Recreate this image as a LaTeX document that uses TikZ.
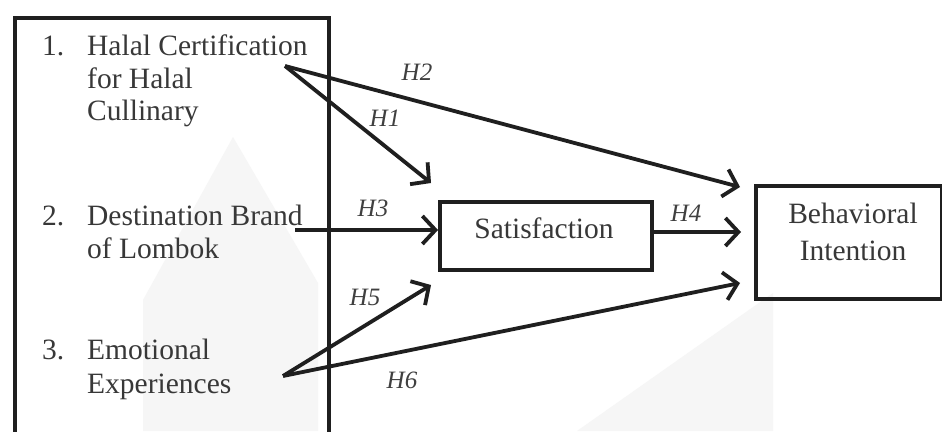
\documentclass[tikz,border=0pt]{standalone}
\usepackage{fontspec}
\setmainfont{Liberation Serif}
\usetikzlibrary{arrows.meta}
\begin{document}
\begin{tikzpicture}[x=1pt,y=-1pt,
  txt/.style={inner sep=0pt, anchor=base west, text=black!78, font=\fontsize{29.5}{32.5}\selectfont},
  ctxt/.style={txt, anchor=base},
  hyp/.style={inner sep=0pt, text=black!75, font=\fontsize{25}{30}\selectfont\itshape},
  conn/.style={draw=black!88, line width=3.8pt, -{Straight Barb[length=13pt,width=28pt]}},
  boxline/.style={draw=black!88, line width=3.6pt, inner sep=0pt, anchor=north west},
  wm/.style={fill=black!3.5, draw=none}]
\useasboundingbox (0,0) rectangle (942,431);
\clip (0,0) rectangle (942,431);
\fill[white] (0,0) rectangle (942,431);
% faint watermark
\fill[wm] (143,431) -- (143,300) -- (233,137) -- (318,283) -- (318,431) -- cycle;
\fill[wm] (577,431) -- (773,293) -- (773,431) -- cycle;
% boxes
\node[boxline, minimum width=314pt, minimum height=460pt] (leftbox) at (13,16) {};
\node[boxline, minimum width=212pt, minimum height=68pt] (sat) at (438,200) {};
\node[boxline, minimum width=186pt, minimum height=113pt] (bi) at (754,184) {};
% left texts
\node[txt] (n1) at (42,55) {1.};
\node[txt] (t1a) at (87,55) {Halal Certification};
\node[txt] (t1b) at (87,88) {for Halal};
\node[txt] (t1c) at (87,120) {Cullinary};
\node[txt] (n2) at (42,225) {2.};
\node[txt] (t2a) at (87,225) {Destination Brand};
\node[txt] (t2b) at (87,258) {of Lombok};
\node[txt] (n3) at (42,359) {3.};
\node[txt] (t3a) at (87,359) {Emotional};
\node[txt] (t3b) at (87,393) {Experiences};
% box texts
\node[ctxt] (satlbl) at (544,238) {Satisfaction};
\node[ctxt] (bi1) at (853,223) {Behavioral};
\node[ctxt] (bi2) at (853,260) {Intention};
% connector end points
\coordinate (s1) at (285,66);
\coordinate (e1) at (431,183);
\coordinate (e2) at (740,187);
\coordinate (s3) at (295,230);
\coordinate (e4) at (741,232);
\coordinate (s5) at (283,376);
\coordinate (e5) at (431,285);
\coordinate (e6) at (740,283);
% connectors
\draw[conn] (s1) -- (e1);
\draw[conn] (s1) -- (e2);
\draw[conn] (s3) -- (sat.west |- s3);
\draw[conn] (sat.east |- e4) -- (e4);
\draw[conn] (s5) -- (e5);
\draw[conn] (s5) -- (e6);
% labels
\node[hyp] (h1) at (385,118) {H1};
\node[hyp] (h2) at (417,72) {H2};
\node[hyp] (h3) at (373,208) {H3};
\node[hyp] (h4) at (686,213) {H4};
\node[hyp] (h5) at (365,297) {H5};
\node[hyp] (h6) at (402,380) {H6};
\end{tikzpicture}
\end{document}
